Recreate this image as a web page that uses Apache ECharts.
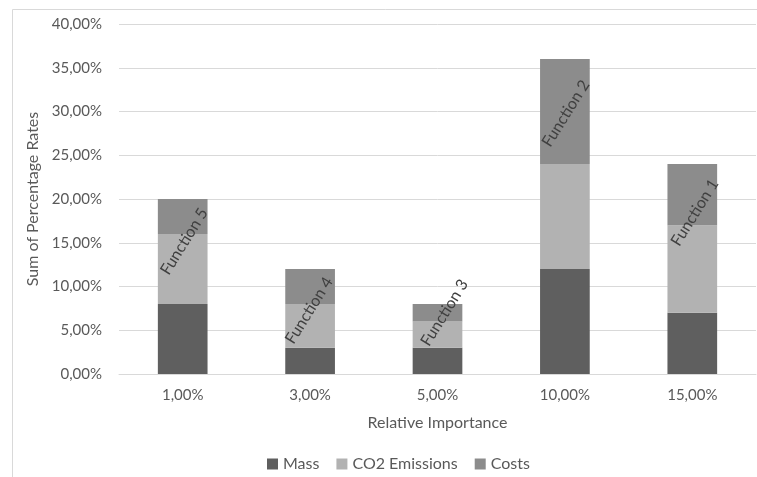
<!DOCTYPE html>
<html><head><meta charset="utf-8">
<script src="https://cdn.jsdelivr.net/npm/echarts@6/dist/echarts.min.js"></script>
<style>html,body{margin:0;padding:0;background:#fff}#c{width:757px;height:477px}</style>
</head><body><div id="c"></div>
<script>
const categories = ['1,00%', '3,00%', '5,00%', '10,00%', '15,00%'];
const mass = [8, 3, 3, 12, 7];
const co2 = [8, 5, 3, 12, 10];
const costs = [4, 4, 2, 12, 7];
const functionLabels = ['Function 5', 'Function 4', 'Function 3', 'Function 2', 'Function 1'];
// screen-space nudges of each label from the centre of its Costs segment
const labelShifts = [[1.5, 25], [-1, 24], [7, 0], [1, 2], [2.5, 18]];

const font = 'Lato';
const rot = 58;
const th = rot * Math.PI / 180;
function localOffset(s) {
  const dx = s[0], dy = s[1], c = Math.cos(th), n = Math.sin(th);
  return [dx * c - dy * n, dx * n + dy * c];
}
const chart = echarts.init(document.getElementById('c'), null, {renderer: 'canvas'});
chart.setOption({
  animation: false,
  backgroundColor: '#fff',
  textStyle: {fontFamily: font},
  graphic: [{type: 'rect', left: 10, top: 7, shape: {width: 800, height: 520}, style: {fill: 'none', stroke: '#d9d9d9', lineWidth: 1}, silent: true}],
  grid: {left: 119, right: 1, top: 24, bottom: 103},
  legend: {
    top: 451, left: 262, itemWidth: 11, itemHeight: 11, itemGap: 17,
    icon: 'rect',
    textStyle: {fontFamily: font, fontSize: 16, color: '#595959'},
    data: ['Mass', 'CO2 Emissions', 'Costs']
  },
  xAxis: {
    type: 'category', data: categories,
    name: 'Relative Importance', nameLocation: 'middle', nameGap: 41,
    nameTextStyle: {fontFamily: font, fontSize: 16, color: '#595959'},
    axisLine: {lineStyle: {color: '#d9d9d9'}},
    axisTick: {show: false},
    axisLabel: {fontFamily: font, fontSize: 15, color: '#595959', margin: 14}
  },
  yAxis: {
    type: 'value', min: 0, max: 40, interval: 5,
    name: 'Sum of Percentage Rates', nameLocation: 'middle', nameGap: 66,
    nameTextStyle: {fontFamily: font, fontSize: 16, color: '#595959'},
    axisLine: {show: false}, axisTick: {show: false},
    splitLine: {lineStyle: {color: '#d9d9d9', width: 1}},
    axisLabel: {fontFamily: font, fontSize: 15, color: '#595959', margin: 17,
      formatter: v => v.toFixed(2).replace('.', ',') + '%'}
  },
  series: [
    {name: 'Mass', type: 'bar', stack: 's', data: mass, barWidth: '39%', itemStyle: {color: '#5f5f5f'}},
    {name: 'CO2 Emissions', type: 'bar', stack: 's', data: co2, itemStyle: {color: '#b2b2b2'}},
    {name: 'Costs', type: 'bar', stack: 's', itemStyle: {color: '#8c8c8c'},
      data: costs.map((v, i) => ({
        value: v,
        label: {show: true, position: 'inside', rotate: rot, offset: localOffset(labelShifts[i]),
          formatter: functionLabels[i], fontFamily: font, fontSize: 16, color: '#404040'}
      }))
    }
  ]
});
</script></body></html>
